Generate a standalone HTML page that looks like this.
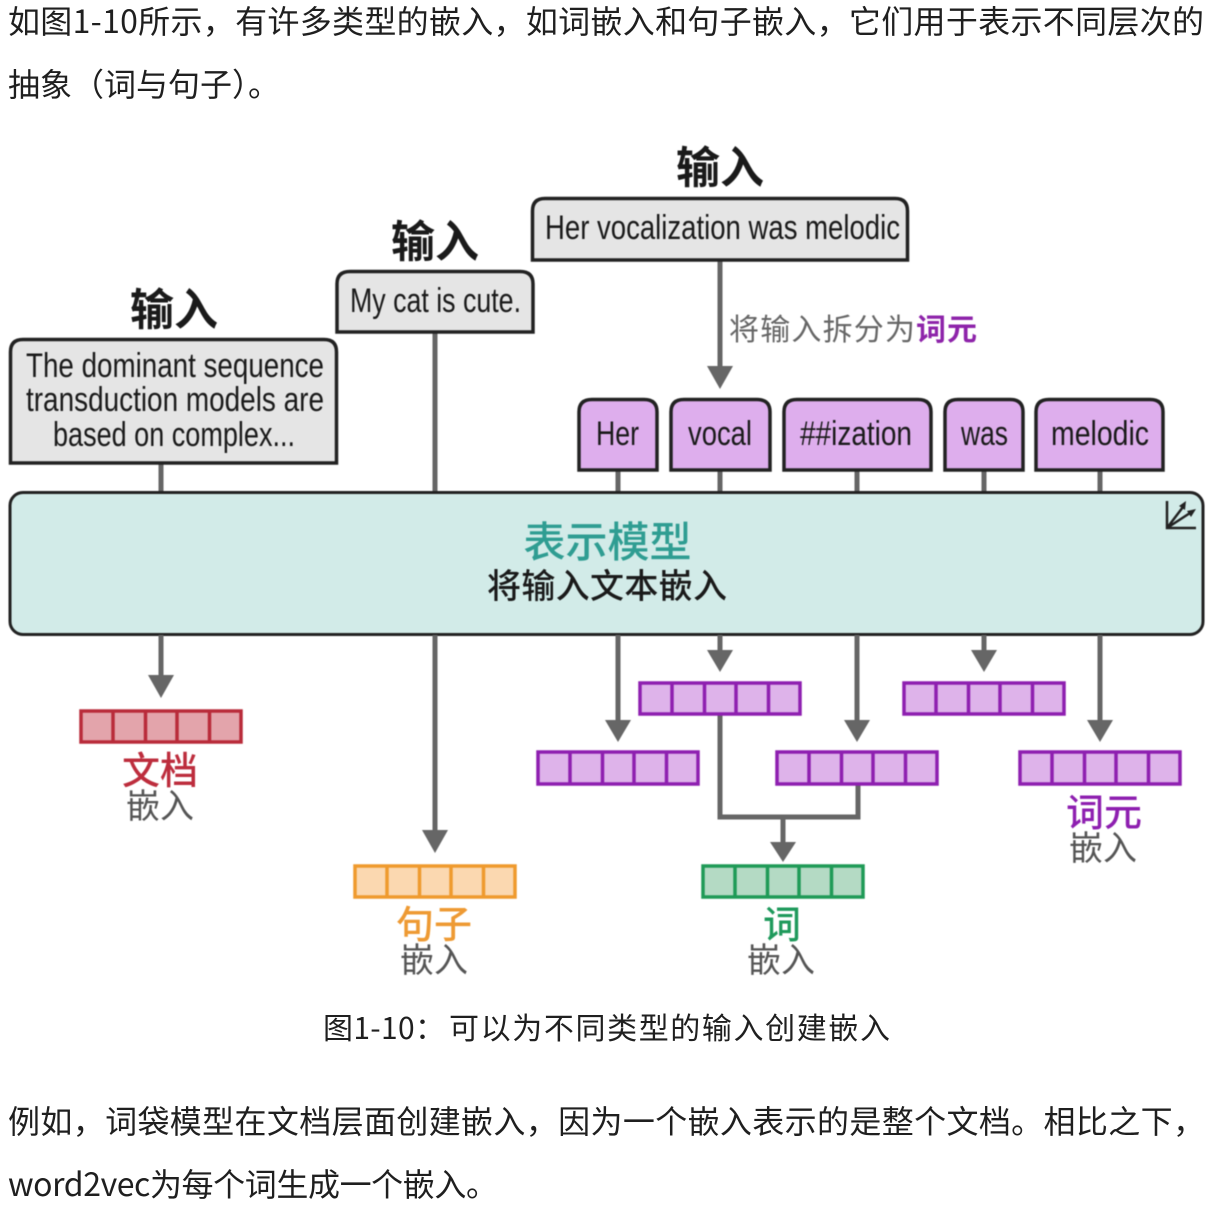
<!DOCTYPE html>
<html lang="zh"><head><meta charset="utf-8"><style>
html,body{margin:0;padding:0;background:#fff;width:1216px;height:1205px;overflow:hidden}
svg{display:block}
text{font-family:"Liberation Sans","Noto Sans CJK SC",sans-serif}
.b{font-size:32px;fill:#1f1f1f;font-family:"Noto Sans CJK SC","Liberation Sans",sans-serif}
.e{font-size:34px;fill:#1a1a1a}
.i{font-size:44px;font-weight:700;fill:#1a1a1a;font-family:"Noto Sans CJK SC",sans-serif}
.c{font-family:"Noto Sans CJK SC",sans-serif;text-anchor:middle}
.l{font-size:38px;font-weight:500}
.s{font-size:34px;fill:#555}
.box{fill:#e5e5e5;stroke:#222;stroke-width:3.500}
.tok{fill:#deaeed;stroke:#222;stroke-width:3.500}
.ln{stroke:#666;stroke-width:5;fill:none}
.ar{fill:#666}
.d{filter:blur(.45px)}
</style></head><body>
<svg width="1216" height="1205" viewBox="0 0 1216 1205" xmlns="http://www.w3.org/2000/svg">
<text class="b" x="8" y="33" textLength="1196" lengthAdjust="spacing">如图1-10所示，有许多类型的嵌入，如词嵌入和句子嵌入，它们用于表示不同层次的</text>
<text class="b" x="8" y="96">抽象（词与句子）。</text>

<g class="d">
<!-- connectors above the model -->
<path class="ln" d="M161 463V492M435 332V492M618 470V492M720 470V492M857 470V492M984 470V492M1100 470V492M720 260V368"/>
<path class="ar" d="M707 366H733L720 389Z"/>

<!-- input boxes -->
<path class="box" d="M10.500 463V352Q10.500 339.500 23 339.500H324Q336.500 339.500 336.500 352V463Z"/>
<path class="box" d="M337 332V284Q337 271.500 350 271.500H520Q533 271.500 533 284V332Z"/>
<path class="box" d="M532.500 260V211Q532.500 198.500 545 198.500H895Q907.500 198.500 907.500 211V260Z"/>
<text class="i c" x="174" y="325">输入</text>
<text class="i c" x="435" y="257">输入</text>
<text class="i c" x="720" y="183">输入</text>
<text class="e" x="26" y="377" textLength="298" lengthAdjust="spacingAndGlyphs">The dominant sequence</text>
<text class="e" x="26" y="411" textLength="298" lengthAdjust="spacingAndGlyphs">transduction models are</text>
<text class="e" x="53" y="446" textLength="242" lengthAdjust="spacingAndGlyphs">based on complex...</text>
<text class="e" x="350" y="312" textLength="171" lengthAdjust="spacingAndGlyphs">My cat is cute.</text>
<text class="e" x="545" y="239" textLength="355" lengthAdjust="spacingAndGlyphs">Her vocalization was melodic</text>

<text x="729" y="340" font-size="30" fill="#666" style="font-family:'Noto Sans CJK SC',sans-serif" textLength="186">将输入拆分为</text>
<text x="916" y="340" font-size="30" font-weight="700" fill="#8e24aa" style="font-family:'Noto Sans CJK SC',sans-serif" textLength="61">词元</text>

<!-- tokens -->
<path class="tok" d="M579 470V412Q579 399.500 592 399.500H644Q657 399.500 657 412V470Z"/>
<path class="tok" d="M671 470V412Q671 399.500 684 399.500H757Q770 399.500 770 412V470Z"/>
<path class="tok" d="M784 470V412Q784 399.500 797 399.500H918Q931 399.500 931 412V470Z"/>
<path class="tok" d="M945 470V412Q945 399.500 958 399.500H1010Q1023 399.500 1023 412V470Z"/>
<path class="tok" d="M1036 470V412Q1036 399.500 1049 399.500H1150Q1163 399.500 1163 412V470Z"/>
<text class="e" x="596" y="445" textLength="43" lengthAdjust="spacingAndGlyphs">Her</text>
<text class="e" x="688" y="445" textLength="64" lengthAdjust="spacingAndGlyphs">vocal</text>
<text class="e" x="800" y="445" textLength="112" lengthAdjust="spacingAndGlyphs">##ization</text>
<text class="e" x="961" y="445" textLength="47" lengthAdjust="spacingAndGlyphs">was</text>
<text class="e" x="1051" y="445" textLength="98" lengthAdjust="spacingAndGlyphs">melodic</text>

<!-- model -->
<rect x="10" y="492.500" width="1193" height="142" rx="13" fill="#d2ebe8" stroke="#222" stroke-width="3"/>
<text class="c" x="607.500" y="557" font-size="42" font-weight="500" fill="#2f9d92">表示模型</text>
<text x="487" y="598" font-size="34" fill="#1a1a1a" font-weight="500" style="font-family:'Noto Sans CJK SC',sans-serif" textLength="240">将输入文本嵌入</text>
<path d="M1167 501V528H1196M1167 528L1183 507M1167 528L1190 513" stroke="#222" stroke-width="2.500" fill="none"/>
<path d="M1186 501L1185 510L1179 506ZM1196 509L1191 517L1187 511Z" fill="#222"/>

<!-- lower connectors -->
<path class="ln" d="M161 635V678M435 635V832M618 635V722M720 635V652M857 635V722M984 635V652M1100 635V722"/>
<path class="ln" d="M720 714V817H858V784M783 817V842"/>
<path class="ar" d="M148 675H174L161 698ZM422 830H448L435 853ZM605 720H631L618 742ZM707 650H733L720 672ZM844 720H870L857 742ZM971 650H997L984 672ZM1087 720H1113L1100 742ZM770 842H796L783 862Z"/>

<!-- red -->
<g fill="#e3a4ab" stroke="#b92b3a" stroke-width="3.500">
<rect x="81" y="711" width="160" height="31"/><path d="M113 711V742M145.500 711V742M177 711V742M209.500 711V742"/></g>
<!-- orange -->
<g fill="#fbd8b0" stroke="#ef9a2e" stroke-width="3.500">
<rect x="355" y="866" width="160" height="31"/><path d="M387 866V897M419.500 866V897M451 866V897M483.500 866V897"/></g>
<!-- purple -->
<g fill="#deb3ea" stroke="#8e1fb0" stroke-width="3.500">
<rect x="640" y="683" width="160" height="31"/><path d="M672 683V714M704.500 683V714M736 683V714M768.500 683V714"/>
<rect x="904" y="683" width="160" height="31"/><path d="M936 683V714M968.500 683V714M1000 683V714M1032.500 683V714"/>
<rect x="538" y="752" width="160" height="32"/><path d="M570 752V784M602.500 752V784M634 752V784M666.500 752V784"/>
<rect x="777" y="752" width="160" height="32"/><path d="M809 752V784M841.500 752V784M873 752V784M905.500 752V784"/>
<rect x="1020" y="752" width="160" height="32"/><path d="M1052 752V784M1084.500 752V784M1116 752V784M1148.500 752V784"/>
</g>
<!-- green -->
<g fill="#b4dac4" stroke="#1f9a57" stroke-width="3.500">
<rect x="703" y="866" width="160" height="31"/><path d="M735 866V897M767.500 866V897M799 866V897M831.500 866V897"/></g>

<!-- labels -->
<text class="c l" x="160" y="784" fill="#bd2d3d">文档</text>
<text class="c s" x="160" y="818">嵌入</text>
<text class="c l" x="434" y="938" fill="#ee9a33">句子</text>
<text class="c s" x="434" y="972">嵌入</text>
<text class="c l" x="782" y="938" fill="#1f9a5c">词</text>
<text class="c s" x="781" y="972">嵌入</text>
<text class="c l" x="1104" y="826" fill="#8e1fb0">词元</text>
<text class="c s" x="1103" y="860">嵌入</text>
</g>

<text x="323" y="1039" font-size="30" fill="#1f1f1f" style="font-family:'Noto Sans CJK SC',sans-serif" textLength="122">图1-10：</text>
<text x="449" y="1039" font-size="30" fill="#1f1f1f" style="font-family:'Noto Sans CJK SC',sans-serif" textLength="441">可以为不同类型的输入创建嵌入</text>
<text class="b" x="8" y="1133" textLength="1197" lengthAdjust="spacing">例如，词袋模型在文档层面创建嵌入，因为一个嵌入表示的是整个文档。相比之下，</text>
<text class="b" x="8" y="1196" textLength="490" lengthAdjust="spacing">word2vec为每个词生成一个嵌入。</text>
</svg>
</body></html>
